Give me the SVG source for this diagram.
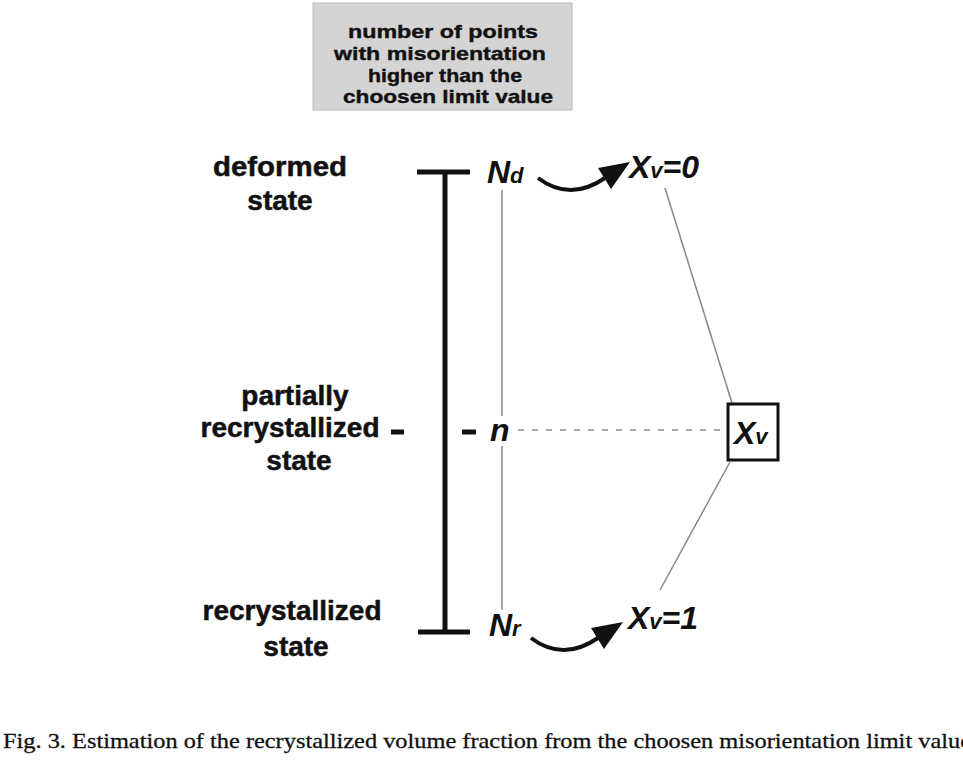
<svg xmlns="http://www.w3.org/2000/svg" width="963" height="775" viewBox="0 0 963 775">
<style>
.lbl{font-family:"Liberation Sans","Open Sans",sans-serif;font-weight:bold;font-size:28px;fill:#111;stroke:#111;stroke-width:0.5;text-anchor:middle}
.box{font-family:"Liberation Sans","Open Sans",sans-serif;font-weight:bold;font-size:19px;fill:#111;stroke:#111;stroke-width:0.4;text-anchor:middle}
.math{font-family:"Liberation Sans","DejaVu Sans",sans-serif;font-weight:bold;font-style:italic;font-size:32px;fill:#111}
.sub{font-size:22px}
.thick{stroke:#111;stroke-width:5;fill:none}
.thin{stroke:#888;stroke-width:1.5;fill:none}
.arrow{stroke:#111;stroke-width:4;fill:none}
.cap{font-family:"Liberation Serif","Times New Roman",serif;font-size:22px;fill:#111;stroke:#111;stroke-width:0.3}
</style>
<rect width="963" height="775" fill="#fff"/>
<g id="header">
<rect x="313" y="3" width="259" height="107" fill="#d4d4d4" stroke="#bbb" stroke-width="1"/>
<text class="box" x="443" y="38" textLength="190" lengthAdjust="spacingAndGlyphs">number of points</text>
<text class="box" x="440" y="60" textLength="212" lengthAdjust="spacingAndGlyphs">with misorientation</text>
<text class="box" x="445" y="82" textLength="154" lengthAdjust="spacingAndGlyphs">higher than the</text>
<text class="box" x="448" y="103" textLength="210" lengthAdjust="spacingAndGlyphs">choosen limit value</text>
</g>
<g id="labels">
<text class="lbl" x="280" y="176" textLength="134" lengthAdjust="spacingAndGlyphs">deformed</text>
<text class="lbl" x="280" y="210">state</text>
<text class="lbl" x="295" y="405">partially</text>
<text class="lbl" x="290" y="437">recrystallized</text>
<text class="lbl" x="299" y="470">state</text>
<text class="lbl" x="292" y="620">recrystallized</text>
<text class="lbl" x="296" y="656">state</text>
</g>
<g id="connectors">
<line class="thick" x1="445" y1="172" x2="445" y2="632"/>
<line class="thick" x1="417" y1="172" x2="470" y2="172"/>
<line class="thick" x1="418" y1="632" x2="470" y2="632"/>
<line class="thick" x1="391" y1="432" x2="404" y2="432"/>
<line class="thick" x1="462" y1="432" x2="476" y2="432"/>
<line class="thin" x1="502" y1="190" x2="502" y2="416"/>
<line class="thin" x1="502" y1="446" x2="502" y2="610"/>
<line class="thin" x1="518" y1="430" x2="723" y2="430" stroke-dasharray="6 8"/>
<line class="thin" x1="665" y1="188" x2="732" y2="403"/>
<line class="thin" x1="730" y1="462" x2="660" y2="590"/>
<g id="arrow-top">
<path class="arrow" d="M538,178 Q570,202 605,178"/>
<polygon points="630,162 611,189 598,168" fill="#111"/>
</g>
<g id="arrow-bottom" transform="translate(-7,460)">
<path class="arrow" d="M538,178 Q570,202 605,178"/>
<polygon points="630,162 611,189 598,168" fill="#111"/>
</g>
</g>
<g id="Nd"><text class="math" x="487" y="183">N<tspan class="sub">d</tspan></text></g>
<g id="Xv0"><text class="math" x="629" y="178">X<tspan class="sub">v</tspan>=0</text></g>
<g id="n"><text class="math" x="490" y="441">n</text></g>
<g id="Xv">
<rect x="728" y="404" width="50" height="56" fill="#fff" stroke="#111" stroke-width="3"/>
<text class="math" x="734" y="444">X<tspan class="sub">v</tspan></text>
</g>
<g id="Nr"><text class="math" x="489" y="636">N<tspan class="sub">r</tspan></text></g>
<g id="Xv1"><text class="math" x="628" y="629">X<tspan class="sub">v</tspan>=1</text></g>
<text class="cap" x="3" y="748" textLength="968" lengthAdjust="spacingAndGlyphs">Fig. 3. Estimation of the recrystallized volume fraction from the choosen misorientation limit value</text>
</svg>
